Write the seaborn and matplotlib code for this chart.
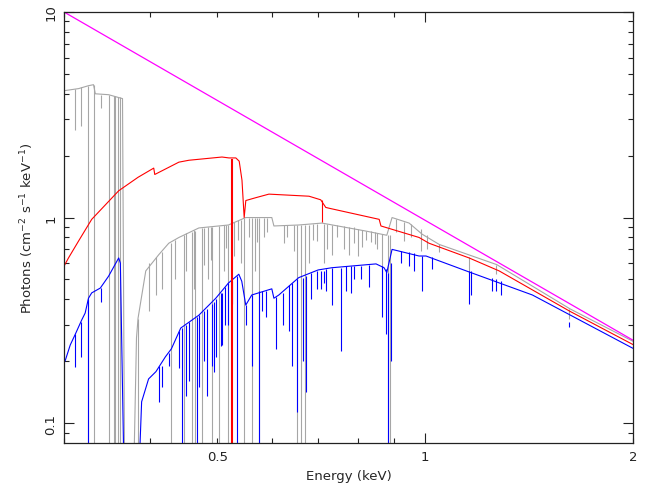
import seaborn as sns
import matplotlib.pyplot as plt
from matplotlib.ticker import FixedLocator, FuncFormatter, NullFormatter

# power law (unabsorbed) - straight line in log-log
pl_e = [0.300, 2.000]
pl_f = [10.0, 0.253]

# red model continuum
red_e = [0.300, 0.3045, 0.315, 0.329, 0.360, 0.384, 0.4046, 0.406, 0.440, 0.455, 0.508,
         0.520, 0.532, 0.538, 0.543, 0.547, 0.550, 0.569, 0.594, 0.679, 0.706, 0.718,
         0.726, 0.858, 0.863, 0.980, 1.013, 1.158, 1.280, 1.620, 2.000]
red_f = [0.58, 0.636, 0.77, 0.98, 1.35, 1.57, 1.74, 1.62, 1.86, 1.90, 1.97,
         1.95, 1.95, 1.88, 1.52, 1.00, 1.21, 1.25, 1.30, 1.27, 1.22, 1.12,
         1.11, 0.98, 0.91, 0.80, 0.75, 0.636, 0.55, 0.35, 0.241]
red_line_e = [0.5245, 0.7088]
red_line_top = [1.93, 1.22]
red_line_bot = [0.07, 0.95]

# blue model continuum
blue_e = [0.301, 0.3063, 0.3114, 0.3183, 0.3219, 0.3255, 0.329, 0.3386, 0.348, 0.360,
          0.362, 0.366, 0.386, 0.3886, 0.3977, 0.4076, 0.4206, 0.4292, 0.4427, 0.4703,
          0.4976, 0.519, 0.5373, 0.5426, 0.5499, 0.561, 0.5998, 0.604, 0.614, 0.656,
          0.700, 0.7327, 0.849, 0.872, 0.880, 0.8956, 0.980, 1.003, 1.147, 1.430, 2.000]
blue_f = [0.20, 0.24, 0.27, 0.318, 0.343, 0.405, 0.43, 0.454, 0.518, 0.636,
          0.60, 0.07, 0.07, 0.127, 0.164, 0.178, 0.21, 0.23, 0.29, 0.335,
          0.405, 0.48, 0.53, 0.49, 0.375, 0.42, 0.45, 0.405, 0.42, 0.51,
          0.556, 0.57, 0.595, 0.57, 0.54, 0.70, 0.65, 0.65, 0.55, 0.42, 0.231]
blue_line_e = [0.3115, 0.3178, 0.3255, 0.339, 0.4115, 0.4157, 0.4254, 0.4399, 0.4443,
               0.4502, 0.4549, 0.467, 0.4703, 0.4829, 0.491, 0.4942, 0.4976, 0.506,
               0.5077, 0.519, 0.5245, 0.5333, 0.5499, 0.561, 0.574, 0.5881, 0.6078,
               0.6352, 0.6413, 0.652, 0.6654, 0.6721, 0.6971, 0.7064, 0.7137, 0.7327,
               0.7552, 0.7683, 0.7812, 0.7893, 0.8294, 0.8664, 0.8779, 0.884, 0.8926,
               0.990, 1.024, 1.158, 1.166, 1.251, 1.268, 1.289, 1.618,
               0.478, 0.5124, 0.5802, 0.6225, 0.6835, 0.7184, 0.8077, 0.9229, 0.948, 0.964]
blue_line_top = [0.27, 0.31, 0.40, 0.454, 0.19, 0.19, 0.22, 0.28, 0.29,
                 0.30, 0.31, 0.33, 0.335, 0.36, 0.38, 0.39, 0.40, 0.43,
                 0.43, 0.48, 0.49, 0.52, 0.375, 0.42, 0.44, 0.44, 0.41,
                 0.47, 0.48, 0.50, 0.51, 0.52, 0.55, 0.55, 0.55, 0.57,
                 0.57, 0.58, 0.58, 0.58, 0.59, 0.58, 0.56, 0.54, 0.60,
                 0.65, 0.64, 0.55, 0.55, 0.51, 0.50, 0.49, 0.31,
                 0.35, 0.46, 0.44, 0.43, 0.54, 0.56, 0.58, 0.69, 0.68, 0.67]
blue_line_bot = [0.188, 0.21, 0.07, 0.39, 0.127, 0.15, 0.19, 0.185, 0.07,
                 0.136, 0.16, 0.07, 0.15, 0.136, 0.19, 0.178, 0.21, 0.238,
                 0.24, 0.30, 0.38, 0.07, 0.30, 0.19, 0.07, 0.33, 0.23,
                 0.28, 0.19, 0.113, 0.20, 0.142, 0.45, 0.45, 0.48, 0.375,
                 0.225, 0.44, 0.43, 0.50, 0.46, 0.33, 0.27, 0.07, 0.20,
                 0.44, 0.56, 0.38, 0.42, 0.44, 0.44, 0.42, 0.295,
                 0.20, 0.30, 0.35, 0.30, 0.40, 0.44, 0.50, 0.60, 0.58, 0.55]

# grey model continuum
grey_e = [0.300, 0.315, 0.3255, 0.331, 0.333, 0.348, 0.3646, 0.367, 0.379, 0.382, 0.384,
          0.394, 0.4115, 0.4254, 0.440, 0.4703, 0.519, 0.5499, 0.5998, 0.604, 0.656,
          0.7088, 0.820, 0.880, 0.8956, 0.948, 0.990, 1.048, 1.270, 1.620, 2.000]
grey_f = [4.14, 4.24, 4.38, 4.43, 4.00, 3.96, 3.79, 0.07, 0.07, 0.26, 0.324,
          0.55, 0.66, 0.75, 0.80, 0.89, 0.92, 1.00, 1.00, 0.91, 0.92,
          0.94, 0.86, 0.82, 1.00, 0.94, 0.83, 0.74, 0.59, 0.36, 0.25]
grey_line_e = [0.3255, 0.332, 0.348, 0.354, 0.356, 0.359, 0.361, 0.3115, 0.3178, 0.339,
               0.384, 0.3977, 0.4076, 0.4157, 0.428, 0.447, 0.4502, 0.459, 0.464, 0.475,
               0.478, 0.4894, 0.491, 0.503, 0.5146, 0.519, 0.5281, 0.5355, 0.546, 0.5556,
               0.561, 0.5706, 0.574, 0.5842, 0.6307, 0.6456, 0.652, 0.661, 0.670, 0.697,
               0.720, 0.733, 0.776, 0.790, 0.810, 0.834, 0.851, 0.884, 0.890, 0.932,
               0.987, 1.158, 1.268, 1.618,
               0.4339, 0.4624, 0.4847, 0.5111, 0.5408, 0.5666, 0.5901, 0.6245, 0.6785,
               0.6877, 0.7137, 0.7452, 0.7633, 0.7994, 0.8214, 0.8463, 0.8664, 0.9077,
               0.9543, 1.007, 1.048]
grey_line_top = [4.38, 4.43, 3.96, 3.9, 3.9, 3.88, 3.85, 4.2, 4.3, 3.96,
                 0.32, 0.6, 0.64, 0.68, 0.75, 0.82, 0.84, 0.85, 0.86, 0.89,
                 0.89, 0.90, 0.90, 0.91, 0.92, 0.92, 0.95, 0.97, 0.99, 1.0,
                 1.0, 1.0, 1.0, 1.0, 0.92, 0.92, 0.92, 0.92, 0.92, 0.93,
                 0.93, 0.92, 0.90, 0.90, 0.87, 0.86, 0.84, 0.82, 0.82, 0.95,
                 0.88, 0.64, 0.59, 0.36,
                 0.78, 0.87, 0.90, 0.92, 0.97, 1.0, 1.0, 0.92, 0.92,
                 0.93, 0.93, 0.92, 0.91, 0.88, 0.86, 0.85, 0.83, 0.98,
                 0.93, 0.82, 0.74]
grey_line_bot = [0.07, 0.07, 0.07, 0.07, 0.07, 0.07, 0.07, 2.66, 2.8, 3.4,
                 0.07, 0.35, 0.42, 0.45, 0.07, 0.07, 0.55, 0.07, 0.07, 0.07,
                 0.59, 0.62, 0.07, 0.07, 0.71, 0.07, 0.65, 0.78, 0.07, 0.80,
                 0.07, 0.76, 0.07, 0.80, 0.80, 0.69, 0.07, 0.07, 0.07, 0.77,
                 0.70, 0.66, 0.66, 0.75, 0.72, 0.76, 0.70, 0.07, 0.07, 0.77,
                 0.69, 0.54, 0.53, 0.32,
                 0.50, 0.45, 0.50, 0.55, 0.60, 0.55, 0.85, 0.75, 0.60,
                 0.78, 0.60, 0.80, 0.70, 0.65, 0.78, 0.74, 0.50, 0.85,
                 0.80, 0.70, 0.68]

x_minor = [0.3, 0.4, 0.5, 0.6, 0.7, 0.8, 0.9, 2.0]
x_labels = {0.5: '0.5', 1.0: '1', 2.0: '2'}
y_major = [0.1, 1, 10]
y_minor = [0.09, 0.2, 0.3, 0.4, 0.5, 0.6, 0.7, 0.8, 0.9, 2, 3, 4, 5, 6, 7, 8, 9]

GREY = '#a6a6a6'
BLUE = '#0000ff'
RED = '#ff0000'
MAG = '#ff00ff'

sns.set_style('ticks')
plt.rcParams['font.family'] = ['DejaVu Sans']

fig = plt.figure(figsize=(6.46, 4.85), dpi=100)
ax = fig.add_axes([0.0991, 0.0845, 0.8808, 0.8887])

# grey
sns.lineplot(x=grey_e, y=grey_f, color=GREY, lw=0.8, sort=False, estimator=None, ax=ax)
ax.vlines(grey_line_e, grey_line_bot, grey_line_top, color=GREY, lw=0.8)
# blue
sns.lineplot(x=blue_e, y=blue_f, color=BLUE, lw=0.8, sort=False, estimator=None, ax=ax)
ax.vlines(blue_line_e, blue_line_bot, blue_line_top, color=BLUE, lw=0.8)
# red
sns.lineplot(x=red_e, y=red_f, color=RED, lw=0.8, sort=False, estimator=None, ax=ax)
ax.vlines(red_line_e, red_line_bot, red_line_top, color=RED, lw=[1.5, 0.8])
# power law
sns.lineplot(x=pl_e, y=pl_f, color=MAG, lw=0.9, sort=False, estimator=None, ax=ax)

ax.set_xscale('log')
ax.set_yscale('log')
ax.set_xlim(0.3, 2.0)
ax.set_ylim(0.08, 10)

ax.xaxis.set_major_locator(FixedLocator([1.0]))
ax.xaxis.set_minor_locator(FixedLocator(x_minor))
lab = lambda v, p: x_labels.get(round(v, 2), '')
ax.xaxis.set_major_formatter(FuncFormatter(lab))
ax.xaxis.set_minor_formatter(FuncFormatter(lab))

ax.yaxis.set_major_locator(FixedLocator(y_major))
ax.yaxis.set_minor_locator(FixedLocator(y_minor))
ax.yaxis.set_major_formatter(FuncFormatter(lambda v, p: '%g' % v))
ax.yaxis.set_minor_formatter(NullFormatter())

ax.tick_params(which='both', direction='in', top=True, right=True, width=0.8,
               colors='#222222', labelsize=9.5)
ax.tick_params(which='major', length=7, pad=5)
ax.tick_params(which='minor', length=3.5, pad=5)
for t in ax.get_yticklabels():
    t.set_rotation(90)
    t.set_va('center')

for s in ax.spines.values():
    s.set_linewidth(0.9)
    s.set_color('#222222')

ax.set_xlabel('Energy (keV)', fontsize=9.5, labelpad=4)
ax.set_ylabel('Photons (cm$^{-2}$ s$^{-1}$ keV$^{-1}$)', fontsize=9.5, labelpad=6)

fig.savefig('out.png', dpi=100)
